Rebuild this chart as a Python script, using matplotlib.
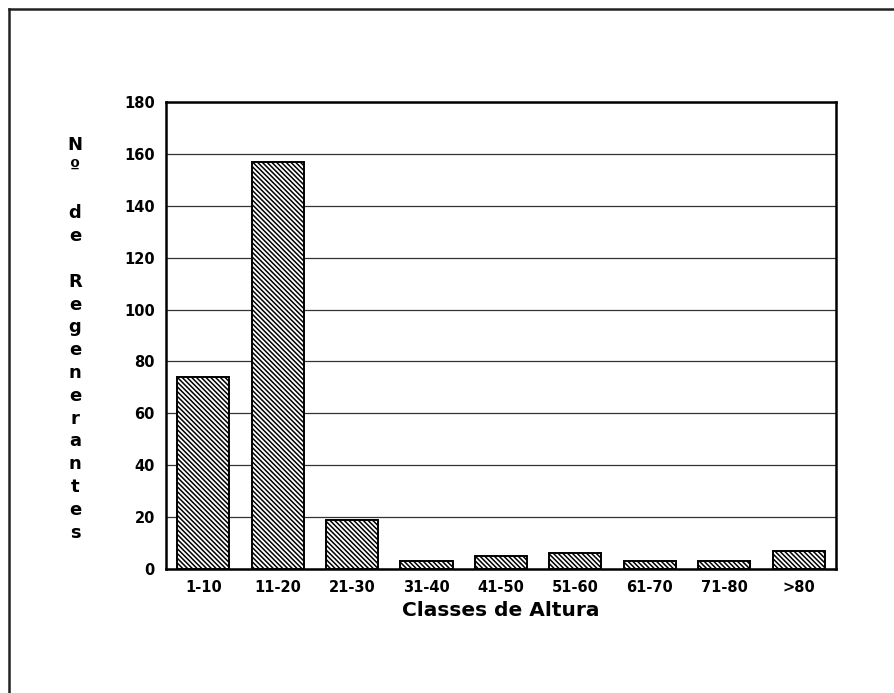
import matplotlib
matplotlib.use("Agg")
import matplotlib.pyplot as plt
from matplotlib.lines import Line2D

classes = ['1-10', '11-20', '21-30', '31-40', '41-50', '51-60', '61-70', '71-80', '>80']
regenerantes = [74, 157, 19, 3, 5, 6, 3, 3, 7]
yticks = list(range(0, 181, 20))

plt.rcParams['font.family'] = ['DejaVu Sans']
plt.rcParams['font.weight'] = 'bold'
plt.rcParams['hatch.linewidth'] = 1.1

fig = plt.figure(figsize=(8.95, 6.93), dpi=100)
ax = fig.add_axes([166 / 895, 1 - 569 / 693, (836 - 166) / 895, (569 - 102) / 693])

x = range(len(classes))
ax.bar(x, regenerantes, width=0.7, color='white', edgecolor='black',
       linewidth=1.4, hatch='\\' * 7, zorder=3)

ax.set_xlim(-0.5, len(classes) - 0.5)
ax.set_ylim(0, 180)
ax.set_yticks(yticks)
ax.set_xticks(list(x))
ax.set_xticklabels(classes)
ax.tick_params(axis='both', length=0, labelsize=10.5, pad=8)
for lab in ax.get_xticklabels() + ax.get_yticklabels():
    lab.set_fontweight('bold')
ax.yaxis.grid(True, color='#333333', linewidth=0.9, zorder=0)
for s in ax.spines.values():
    s.set_linewidth(1.8)

ax.set_xlabel('Classes de Altura', fontsize=14.5, fontweight='bold', labelpad=4)

# vertical stacked y label
label_lines = ['N', 'º', '', 'd', 'e', '', 'R', 'e', 'g', 'e', 'n', 'e', 'r', 'a', 'n', 't', 'e', 's']
top_px, step_px = 145, 22.8
for i, ch in enumerate(label_lines):
    if ch:
        fig.text(75 / 895, 1 - (top_px + i * step_px) / 693, ch, ha='center', va='center',
                 fontsize=13, fontweight='bold')

# page frame (top and left edges)
fig.add_artist(Line2D([9 / 895, 1], [1 - 9 / 693, 1 - 9 / 693], color='#222222', linewidth=1.8))
fig.add_artist(Line2D([9 / 895, 9 / 895], [0, 1 - 9 / 693], color='#222222', linewidth=1.8))

fig.savefig('out.png', dpi=100)
